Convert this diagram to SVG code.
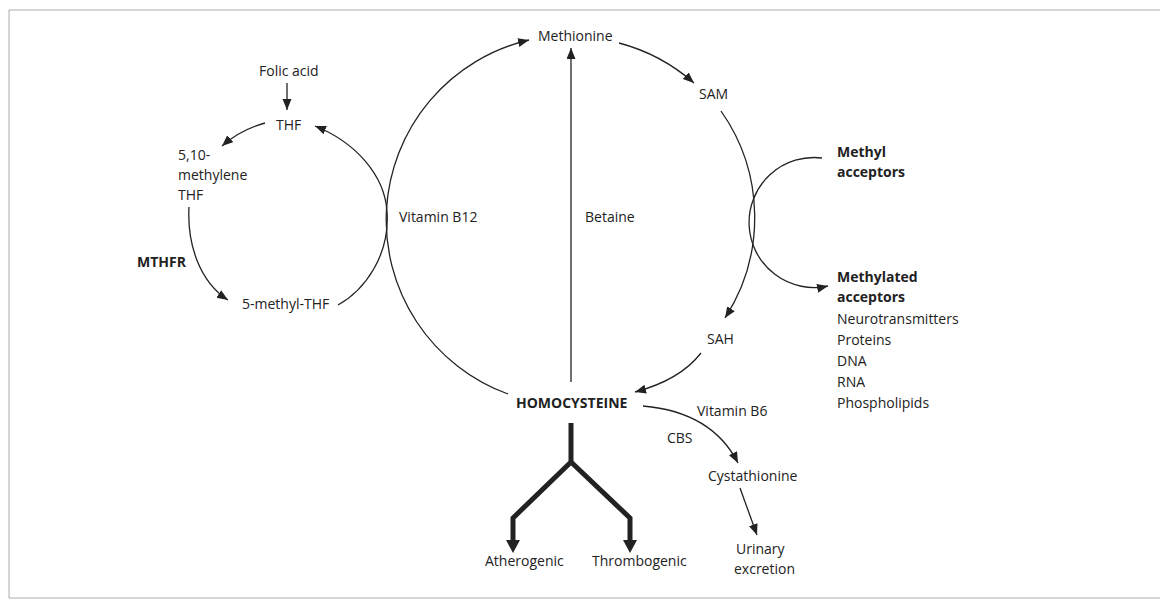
<svg xmlns="http://www.w3.org/2000/svg" width="1160" height="605" viewBox="0 0 1160 605">
<defs>
<style>
text{font-family:"Open Sans","Noto Sans","Liberation Sans",sans-serif;font-size:14px;fill:#222}
.b{font-weight:bold}
.ln{fill:none;stroke:#222;stroke-width:1.3}
.thick{fill:none;stroke:#222;stroke-width:5;stroke-linejoin:miter}
.frame{fill:none;stroke:#aaa;stroke-width:1}
</style>
<marker id="ah" markerWidth="12" markerHeight="10" refX="11" refY="4.5" orient="auto" markerUnits="userSpaceOnUse"><path d="M0,0 L11,4.5 L0,9 Z" fill="#222"/></marker>
</defs>
<rect width="1160" height="605" fill="#fff"/>
<path class="frame" d="M1160,10 L9,10 L9,598 L1160,598"/>
<g id="connectors">
<path class="ln" marker-end="url(#ah)" d="M287,83 L287,110"/>
<path class="ln" marker-end="url(#ah)" d="M265,123 Q240,130 222,146"/>
<path class="ln" marker-end="url(#ah)" d="M189,207 C187,245 200,282 228,300"/>
<path class="ln" marker-end="url(#ah)" d="M338,305 C365,290 390,255 387,212 C385,175 355,142 315,126"/>
<path class="ln" marker-end="url(#ah)" d="M508,394 A185,185 0 0 1 529,40"/>
<path class="ln" marker-end="url(#ah)" d="M571,382 L571,48"/>
<path class="ln" marker-end="url(#ah)" d="M619,43 A185,185 0 0 1 694,83"/>
<path class="ln" marker-end="url(#ah)" d="M721,111 A185,185 0 0 1 725,318"/>
<path class="ln" marker-end="url(#ah)" d="M822,158 A65,65 0 1 0 828,286"/>
<path class="ln" marker-end="url(#ah)" d="M701,353 Q680,380 635,392"/>
<path class="ln" marker-end="url(#ah)" d="M643,406 Q712,412 738,463"/>
<path class="ln" marker-end="url(#ah)" d="M740,488 L757,535"/>
<path class="thick" d="M571,423 L571,462 L513,518 L513,542"/>
<path class="thick" d="M571,462 L630,518 L630,542"/>
<polygon points="506,540 520,540 513,553" fill="#222"/>
<polygon points="623,540 637,540 630,553" fill="#222"/>
</g>
<g id="folic"><text x="259" y="76">Folic acid</text></g>
<g id="thf"><text x="276" y="130">THF</text></g>
<g id="methyleneTHF"><text x="178" y="160">5,10-</text><text x="178" y="180">methylene</text><text x="178" y="200">THF</text></g>
<g id="mthfr"><text class="b" x="137" y="267">MTHFR</text></g>
<g id="methylTHF"><text x="242" y="309">5-methyl-THF</text></g>
<g id="vitb12"><text x="399" y="222">Vitamin B12</text></g>
<g id="betaine"><text x="585" y="222">Betaine</text></g>
<g id="methionine"><text x="538" y="41">Methionine</text></g>
<g id="sam"><text x="699" y="99">SAM</text></g>
<g id="methylacc"><text class="b" x="837" y="157">Methyl</text><text class="b" x="837" y="177">acceptors</text></g>
<g id="methylatedacc"><text class="b" x="837" y="282">Methylated</text><text class="b" x="837" y="302">acceptors</text><text x="837" y="324">Neurotransmitters</text><text x="837" y="345">Proteins</text><text x="837" y="366">DNA</text><text x="837" y="387">RNA</text><text x="837" y="408">Phospholipids</text></g>
<g id="sah"><text x="707" y="344">SAH</text></g>
<g id="homocysteine"><text class="b" x="516" y="408">HOMOCYSTEINE</text></g>
<g id="vitb6"><text x="697" y="416">Vitamin B6</text></g>
<g id="cbs"><text x="667" y="443">CBS</text></g>
<g id="cystathionine"><text x="708" y="481">Cystathionine</text></g>
<g id="urinary"><text x="736" y="554">Urinary</text><text x="734" y="574">excretion</text></g>
<g id="atherogenic"><text x="485" y="566">Atherogenic</text></g>
<g id="thrombogenic"><text x="592" y="566">Thrombogenic</text></g>
</svg>
